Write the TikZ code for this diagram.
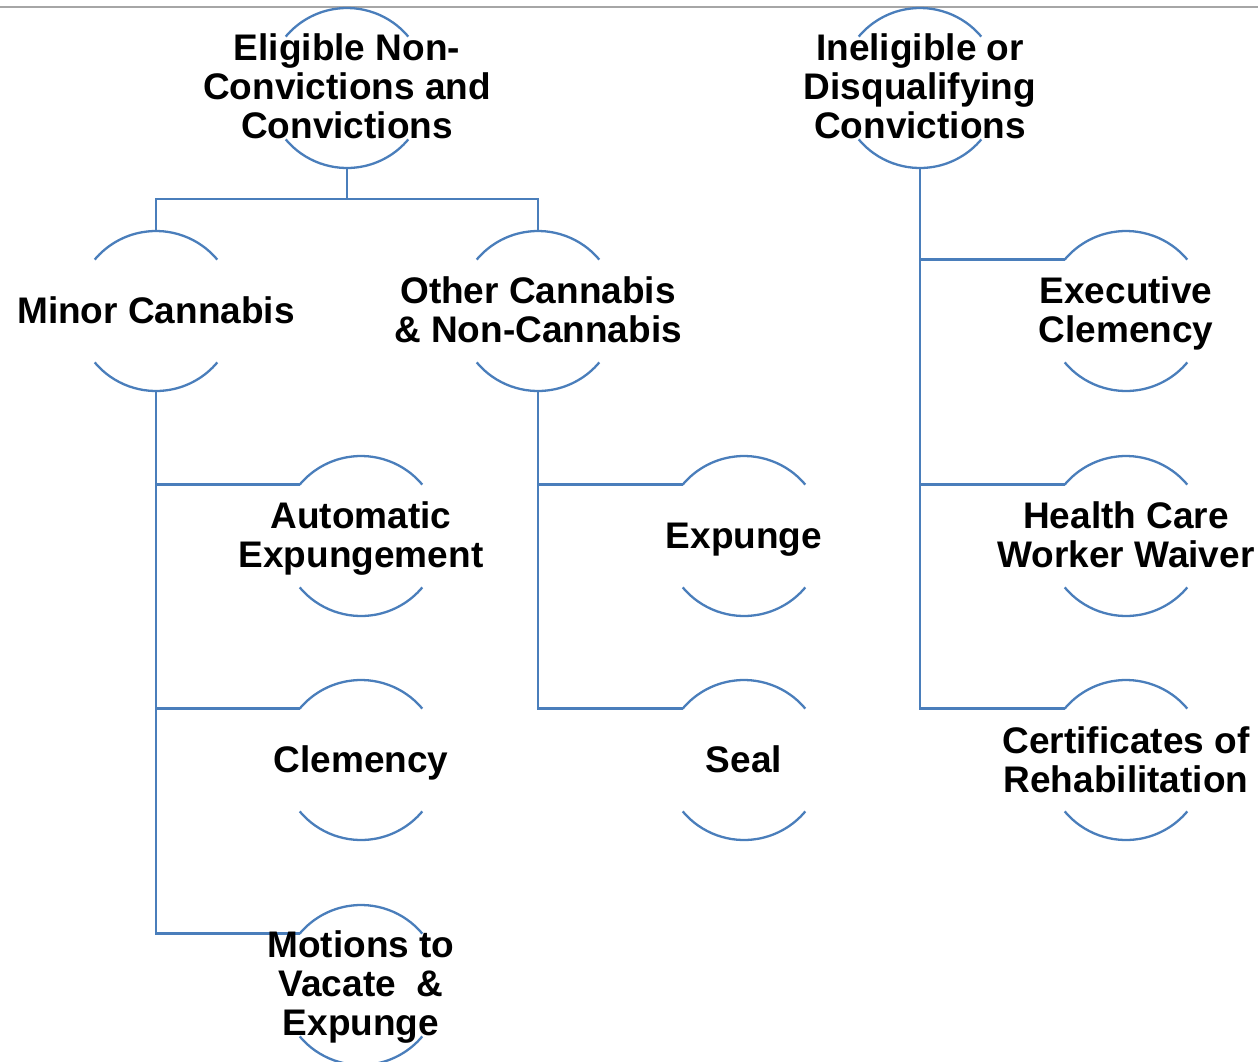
\documentclass[tikz,border=0pt]{standalone}
\usepackage{fontspec}
\setmainfont{Liberation Sans}
\definecolor{lnblue}{HTML}{4A7EBB}
\definecolor{rulegray}{HTML}{A6A6A6}
\begin{document}
\begin{tikzpicture}[x=1pt,y=1pt,
  hub/.style={circle, minimum size=160pt, inner sep=0pt, outer sep=0pt, draw=none},
  lbl/.style={font=\fontsize{37}{39}\selectfont\bfseries, align=center, inner sep=0pt},
  link/.style={draw=lnblue, line width=2.3pt},
  rim/.style={draw=lnblue, line width=2.3pt}]
\useasboundingbox (0,0) rectangle (1258,-1061);
\clip (0,0) rectangle (1258,-1061);
\draw[rulegray, line width=1.5pt] (0,-7) -- (1258,-7);
% hubs
\node[hub] (elig)   at (347,-88)  {};
\node[hub] (inelig) at (920,-88)  {};
\node[hub] (minor)  at (156,-311) {};
\node[hub] (other)  at (538,-311) {};
\node[hub] (auto)   at (361,-536) {};
\node[hub] (clem)   at (361,-760) {};
\node[hub] (motion) at (361,-985) {};
\node[hub] (expg)   at (744,-536) {};
\node[hub] (seal)   at (744,-760) {};
\node[hub] (exec)   at (1126,-311) {};
\node[hub] (health) at (1126,-536) {};
\node[hub] (cert)   at (1126,-760) {};
% arcs
\foreach \n in {elig,inelig,minor,other,auto,clem,motion,expg,seal,exec,health,cert}{
  \draw[rim] (\n.40) arc[start angle=40, end angle=140, radius=80pt];
  \draw[rim] (\n.220) arc[start angle=220, end angle=320, radius=80pt];
}
% connectors
\draw[link] (elig.south) -- ++(0,-31) -| (minor.north);
\draw[link] (elig.south) ++(0,-31) -| (other.north);
\draw[link] (minor.south) |- (auto.140);
\draw[link] (minor.south) |- (clem.140);
\draw[link] (minor.south) |- (motion.140);
\draw[link] (other.south) |- (expg.140);
\draw[link] (other.south) |- (seal.140);
\draw[link] (inelig.south) |- (exec.140);
\draw[link] (inelig.south) |- (health.140);
\draw[link] (inelig.south) |- (cert.140);
% labels
\node[lbl, yshift=2pt]  (eligT)   at (elig)   {Eligible Non-\\Convictions and\\Convictions};
\node[lbl, yshift=2pt]  (ineligT) at (inelig) {Ineligible or\\Disqualifying\\Convictions};
\node[lbl, yshift=1pt]  (minorT)  at (minor)  {Minor Cannabis};
\node[lbl, yshift=1pt]  (otherT)  at (other)  {Other Cannabis\\\& Non-Cannabis};
\node[lbl, yshift=-3pt] (autoT)   at (auto)   {Automatic\\Expungement};
\node[lbl, yshift=-3pt] (clemT)   at (clem)   {Clemency};
\node[lbl, yshift=-2pt] (motionT) at (motion) {Motions to\\Vacate\ \ \&\\Expunge};
\node[lbl, yshift=-4pt] (expgT)   at (expg)   {Expunge};
\node[lbl, yshift=1pt]  (sealT)   at (seal)   {Seal};
\node[lbl, yshift=-2pt] (execT)   at (exec)   {Executive\\Clemency};
\node[lbl, yshift=1pt]  (healthT) at (health) {Health Care\\Worker Waiver};
\node[lbl]              (certT)   at (cert)   {Certificates of\\Rehabilitation};
\end{tikzpicture}
\end{document}
